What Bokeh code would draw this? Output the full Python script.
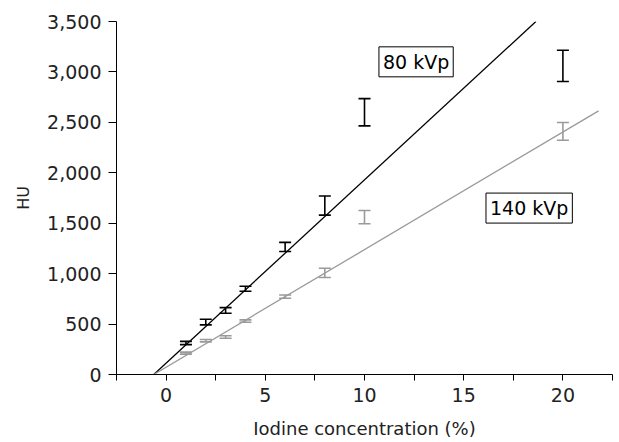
import numpy as np
from bokeh.plotting import figure
from bokeh.models import (Range1d, FixedTicker, NumeralTickFormatter, Whisker,
                          TeeHead, ColumnDataSource, Label)
from bokeh.embed import file_html
from bokeh.resources import INLINE

# ---- data ----
conc = [1, 2, 3, 4, 6, 8, 10, 20]                       # iodine concentration (%)
hu_80 = [312, 520, 635, 850, 1265, 1675, 2600, 3060]     # 80 kVp mean HU
err_80 = [16, 28, 28, 25, 45, 95, 135, 155]               # 80 kVp SD
hu_140 = [212, 335, 372, 530, 772, 1008, 1560, 2410]      # 140 kVp mean HU
err_140 = [10, 12, 12, 12, 16, 46, 66, 88]                # 140 kVp SD

fit_80 = dict(slope=181.7, intercept=112.7, x0=-0.62, x1=18.64)
fit_140 = dict(slope=116.6, intercept=72.3, x0=-0.62, x1=21.8)

y_ticks = [0, 500, 1000, 1500, 2000, 2500, 3000, 3500]
x_ticks = [0, 5, 10, 15, 20]
x_minor = [-2.5, 2.5, 7.5, 12.5, 17.5, 22.5]

labels = ["80 kVp", "140 kVp"]
label_x = [12.6, 18.3]
label_y = [3100, 1650]

BLACK = "#000000"
GRAY = "#9a9a9a"
FONT = "DejaVu Sans"

p = figure(width=619, height=442, x_range=Range1d(-2.5, 22.5), y_range=Range1d(0, 3500),
           output_backend="svg", toolbar_location=None,
           min_border_left=116, min_border_right=7, min_border_top=21, min_border_bottom=68)
p.xgrid.visible = False
p.ygrid.visible = False
p.outline_line_color = None
p.background_fill_color = "white"
p.border_fill_color = "white"

# regression lines
for fit, col in ((fit_80, BLACK), (fit_140, GRAY)):
    xs = np.array([fit["x0"], fit["x1"]])
    ys = fit["intercept"] + fit["slope"] * xs
    p.line(xs, ys, line_color=col, line_width=1.3)

# error bars
for hu, err, col in ((hu_80, err_80, BLACK), (hu_140, err_140, GRAY)):
    hu_a = np.array(hu, dtype=float)
    er_a = np.array(err, dtype=float)
    src = ColumnDataSource(dict(x=conc, upper=hu_a + er_a, lower=hu_a - er_a))
    w = Whisker(source=src, base="x", upper="upper", lower="lower", dimension="height",
                line_color=col, line_width=1.6,
                upper_head=TeeHead(size=12, line_color=col, line_width=1.6),
                lower_head=TeeHead(size=12, line_color=col, line_width=1.6))
    p.add_layout(w)

# boxed labels
for t, lx, ly in zip(labels, label_x, label_y):
    p.add_layout(Label(x=lx, y=ly, text=t, text_align="center", text_baseline="middle",
                       text_font=FONT, text_font_size="19px", text_color="black",
                       border_line_color="black", border_line_width=1,
                       background_fill_color="white", padding=4))

# axes
xa = p.xaxis[0]
xa.ticker = FixedTicker(ticks=x_ticks, minor_ticks=x_minor)
xa.axis_label = "Iodine concentration (%)"
xa.major_tick_in = 0
xa.major_tick_out = 6
xa.minor_tick_in = 0
xa.minor_tick_out = 6
xa.minor_tick_line_color = "black"

ya = p.yaxis[0]
ya.ticker = FixedTicker(ticks=y_ticks)
ya.formatter = NumeralTickFormatter(format="0,0")
ya.axis_label = "HU"
ya.major_tick_in = 0
ya.major_tick_out = 8
ya.minor_tick_line_color = None

for ax in (xa, ya):
    ax.axis_line_color = "black"
    ax.major_tick_line_color = "black"
    ax.major_label_text_font = FONT
    ax.major_label_text_font_size = "19px"
    ax.major_label_text_color = "#222222"
    ax.axis_label_text_font = FONT
    ax.axis_label_text_font_size = "19px"
    ax.axis_label_text_font_style = "normal"
    ax.axis_label_text_color = "#222222"
ya.axis_label_text_font_size = "16px"
ya.major_label_standoff = 7
ya.axis_label_standoff = 11
xa.axis_label_text_font_size = "18px"
xa.major_label_standoff = 7
xa.axis_label_standoff = 13

open("out.html", "w").write(file_html(p, INLINE))
